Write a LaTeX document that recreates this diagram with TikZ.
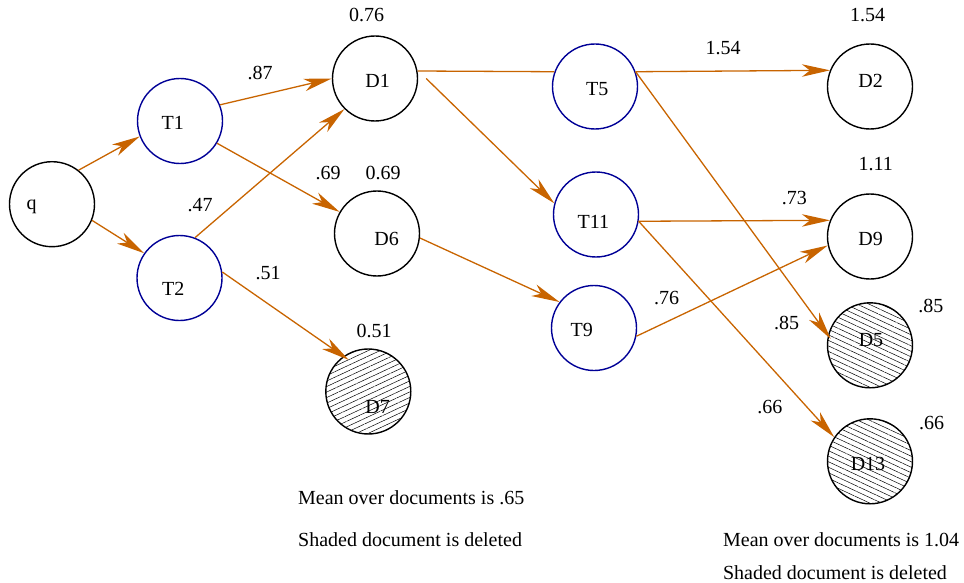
\documentclass[tikz,border=0pt]{standalone}
\usepackage{fontspec}
\setmainfont{Liberation Serif}
\usetikzlibrary{arrows.meta,patterns.meta}
\definecolor{edgeor}{RGB}{200,100,0}
\definecolor{tblue}{RGB}{0,0,150}
\begin{document}
\begin{tikzpicture}[x=1pt,y=-1pt,
  every node/.style={font=\fontsize{20}{24}\selectfont},
  doc/.style={circle,draw=black,line width=1.4pt,minimum size=85pt,inner sep=0pt},
  term/.style={doc,draw=tblue},
  goneA/.style={doc,pattern={Lines[angle=25,distance=5pt,line width=0.5pt]}},
  goneB/.style={doc,pattern={Lines[angle=-25,distance=5pt,line width=0.5pt]}},
  lbl/.style={inner sep=0pt},
  conn/.style={draw=edgeor,line width=1.3pt,-{Stealth[length=28pt,width=12.5pt,inset=8pt]}},
  plainconn/.style={draw=edgeor,line width=1.3pt},
]
\useasboundingbox (0,0) rectangle (964,583);

% circles
\node[doc]   (q)   at (52,204.2) {};
\node[term]  (T1)  at (180,121) {};
\node[term]  (T2)  at (179.5,278) {};
\node[doc]   (D1)  at (375,78.5) {};
\node[doc]   (D6)  at (377,233.5) {};
\node[goneA] (D7)  at (368.3,391.5) {};
\node[term]  (T5)  at (595,86.5) {};
\node[term]  (T11) at (596,214.5) {};
\node[term]  (T9)  at (594,328) {};
\node[doc]   (D2)  at (870,86.5) {};
\node[doc]   (D9)  at (870,236.5) {};
\node[goneB] (D5)  at (870,345.3) {};
\node[goneB] (D13) at (870,461.3) {};

% node texts
\node[lbl] (tq)   at (31.7,206.7) {q};
\node[lbl] (tT1)  at (172.7,122.7) {T1};
\node[lbl] (tT2)  at (173.3,289.3) {T2};
\node[lbl] (tD1)  at (377.7,80.7) {D1};
\node[lbl] (tD6)  at (386.7,239.3) {D6};
\node[lbl] (tD7)  at (377.7,406.7) {D7};
\node[lbl] (tT5)  at (597.3,89.3) {T5};
\node[lbl] (tT11) at (593.3,222.3) {T11};
\node[lbl] (tT9)  at (581.7,330) {T9};
\node[lbl] (tD2)  at (870.7,80.7) {D2};
\node[lbl] (tD9)  at (870.7,239.3) {D9};
\node[lbl] (tD5)  at (871,340) {D5};
\node[lbl] (tD13) at (868,464.3) {D13};

% connectors
\draw[conn] (q.52) -- (T1.201);
\draw[conn] (q.338) -- (T2.145);
\draw[conn] (T1.22) -- (D1.180);
\draw[conn] (T1.329) -- (D6.150);
\draw[conn] (T2.69) -- (D1.225);
\draw[conn,shorten >=-6pt] (T2.8) -- (D7.125);
\draw[plainconn] (D1.10) -- (T5.160);
\draw[conn] ([xshift=8pt]D1.east) -- (T11.165);
\draw[conn] (T5.20) -- (D2.158);
\draw[conn,shorten >=-4pt] (T5.20) -- (D5.167);
\draw[conn] (T11.351) -- (D9.158);
\draw[conn] (T11.351) -- (D13.146);
\draw[conn] (T9.349) -- (D9.192);
\draw[conn] (D6.354) -- (T9.143);

% labels
\node[lbl] (l076)  at (366.7,15) {0.76};
\node[lbl] (l87)   at (260,72.7) {.87};
\node[lbl] (l69)   at (328,172.7) {.69};
\node[lbl] (l069)  at (383,172.7) {0.69};
\node[lbl] (l47)   at (200,205) {.47};
\node[lbl] (l51)   at (268,272.7) {.51};
\node[lbl] (l051)  at (374,330.7) {0.51};
\node[lbl] (l154e) at (723,47.7) {1.54};
\node[lbl] (l154)  at (867.7,15) {1.54};
\node[lbl] (l111)  at (875.7,164.3) {1.11};
\node[lbl] (l73)   at (794.3,197.7) {.73};
\node[lbl] (l76)   at (666.7,298.3) {.76};
\node[lbl] (l85e)  at (786.7,323.3) {.85};
\node[lbl] (l85)   at (930.8,306) {.85};
\node[lbl] (l66e)  at (769.8,407) {.66};
\node[lbl] (l66)   at (931.7,423.3) {.66};

\node[lbl,anchor=west] (m1) at (298,497.7) {Mean over documents is .65};
\node[lbl,anchor=west] (s1) at (298,539.3) {Shaded document is deleted};
\node[lbl,anchor=west] (m2) at (722.9,539.3) {Mean over documents is 1.04};
\node[lbl,anchor=west] (s2) at (722.9,572.7) {Shaded document is deleted};
\end{tikzpicture}
\end{document}
